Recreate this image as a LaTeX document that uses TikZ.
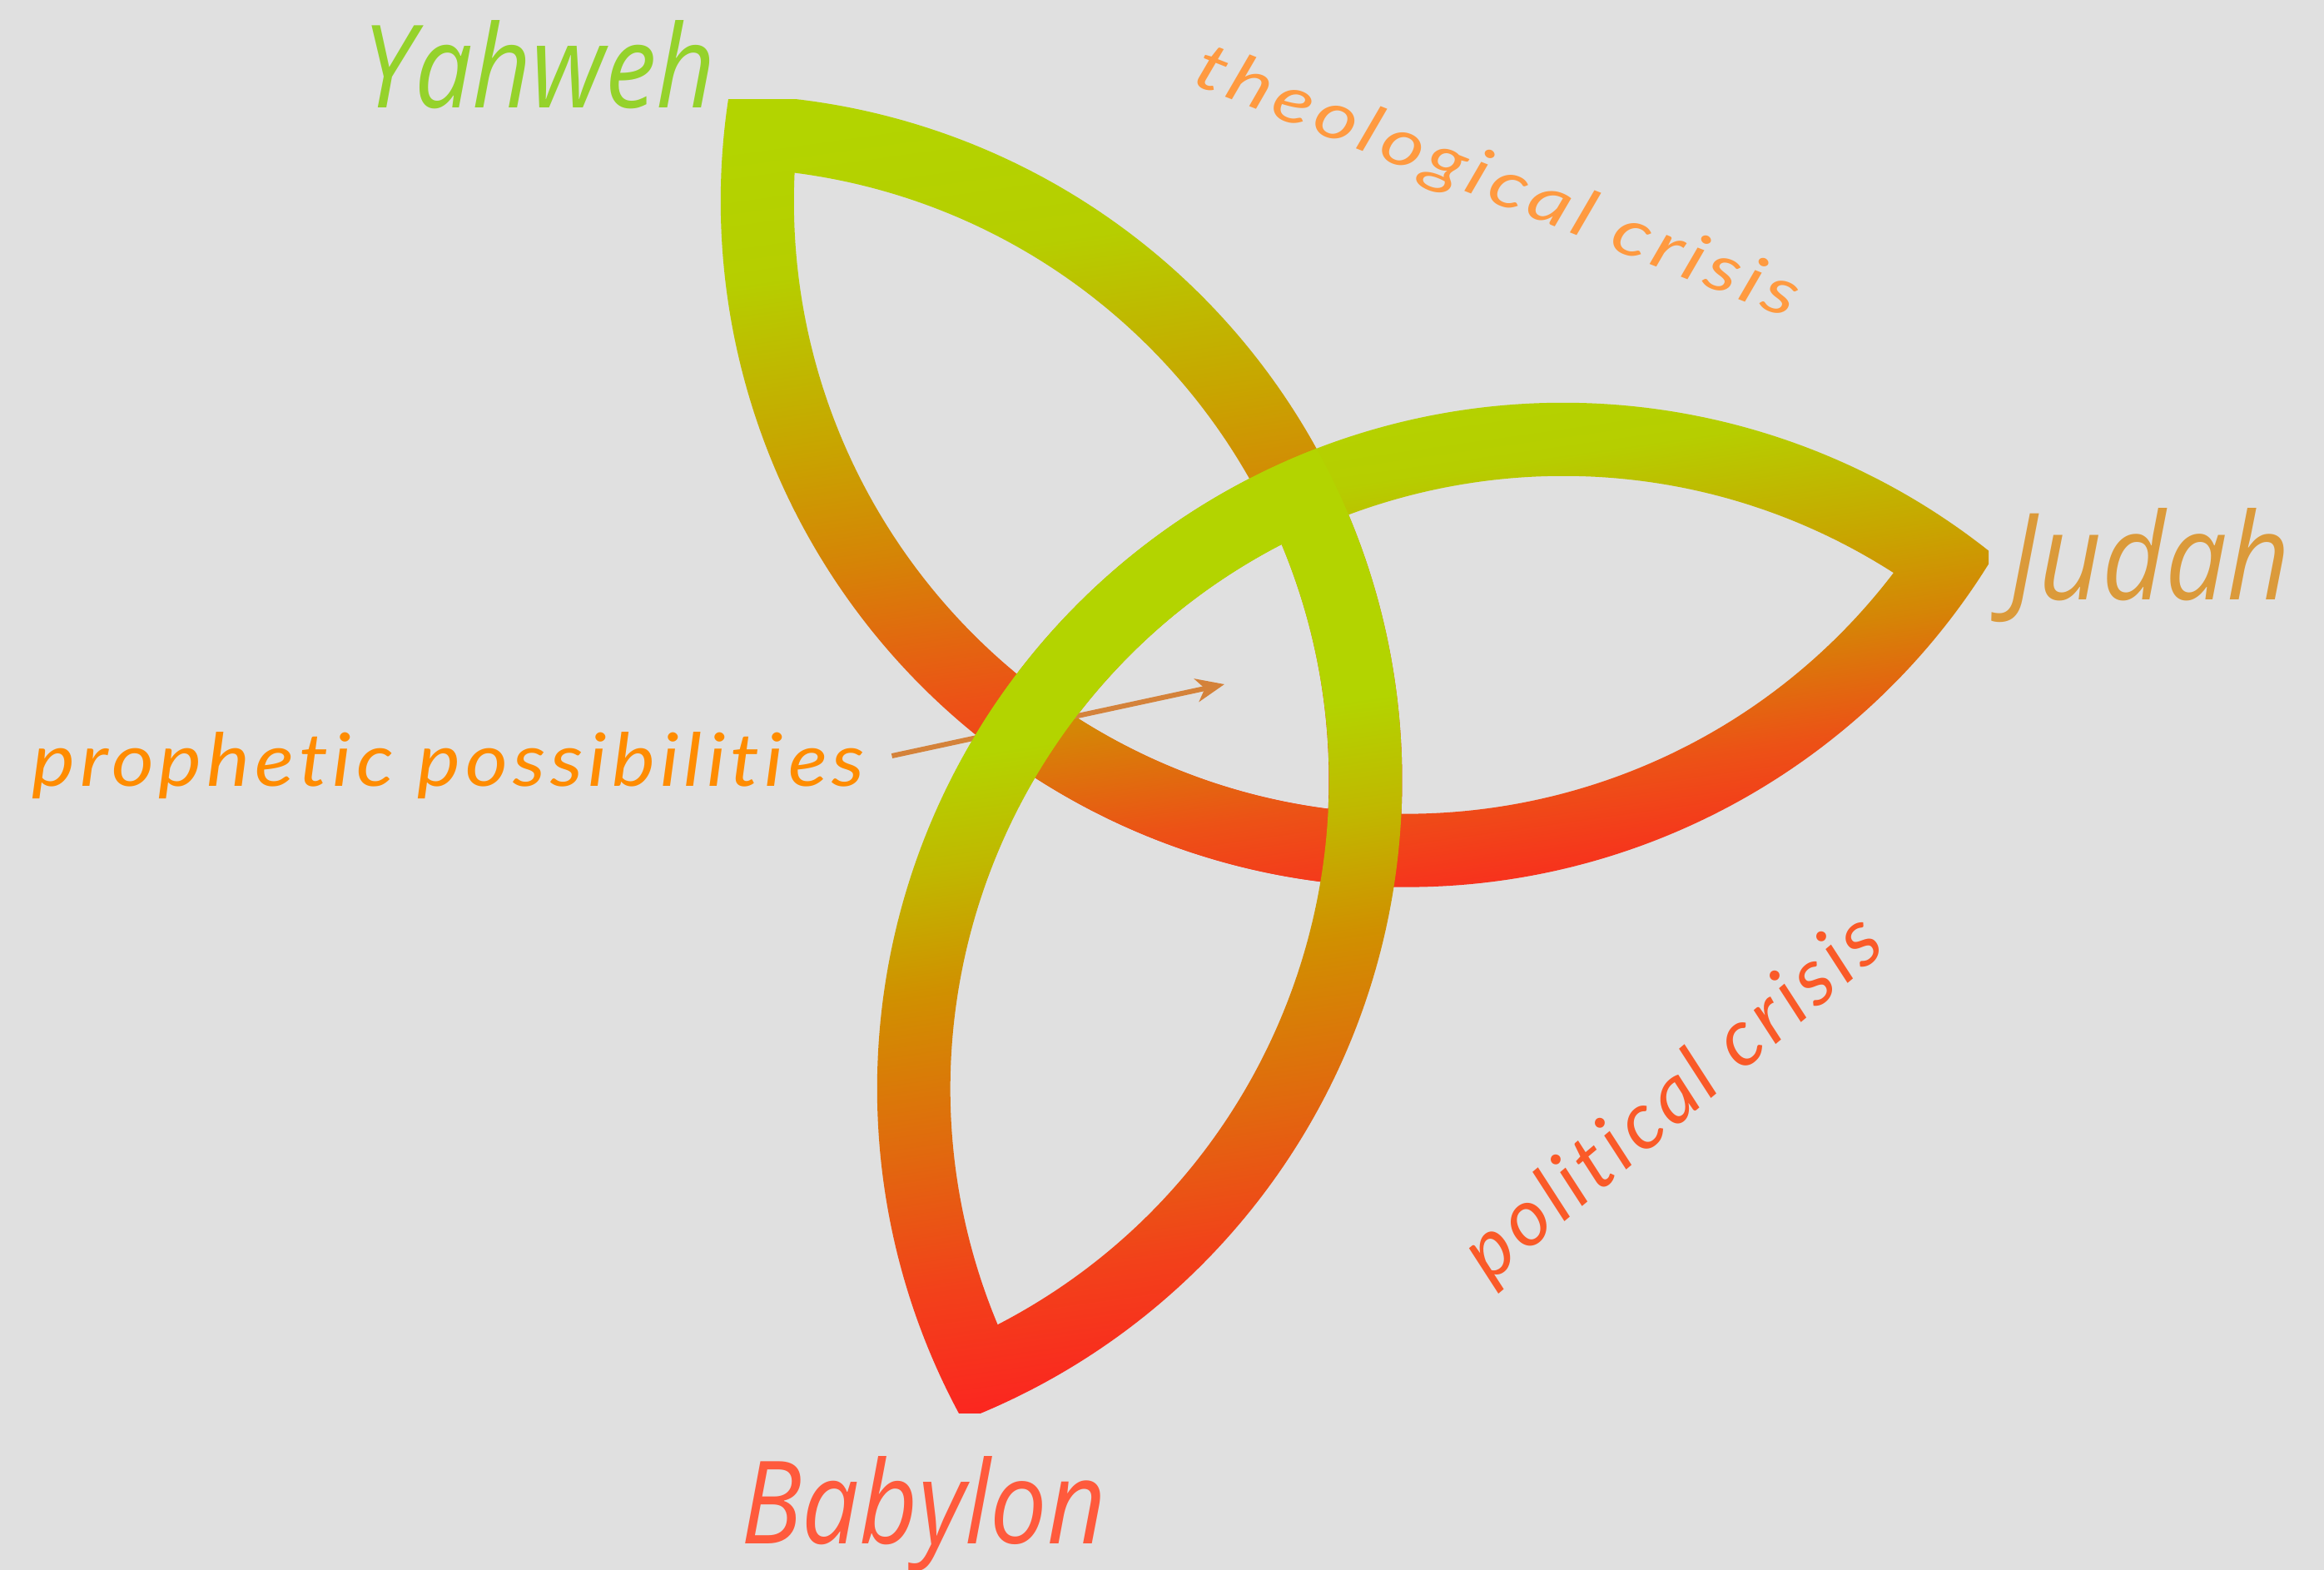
\documentclass[tikz,border=0pt]{standalone}
\usepackage{fontspec}
\usepackage{graphicx}
\usetikzlibrary{calc,arrows.meta}
\newfontfamily\labfont{Open Sans}
\newfontfamily\handfont{Lato}[Ligatures={NoCommon,NoRare,NoContextual},LetterSpace=6]
\definecolor{gG}{RGB}{179,212,0}
\definecolor{gA}{RGB}{182,206,0}
\definecolor{gB}{RGB}{200,165,0}
\definecolor{gC}{RGB}{213,133,6}
\definecolor{gD}{RGB}{236,82,22}
\definecolor{gR}{RGB}{252,36,32}
\definecolor{bA}{RGB}{192,184,0}
\definecolor{bB}{RGB}{208,144,0}
\definecolor{bC}{RGB}{225,105,14}
\definecolor{bD}{RGB}{242,65,26}
\definecolor{yahc}{HTML}{95D22B}
\definecolor{judc}{HTML}{DB9A3A}
\definecolor{babc}{HTML}{FF5A3C}
\definecolor{theoc}{HTML}{FF9A40}
\definecolor{propc}{HTML}{FF8C00}
\definecolor{polc}{HTML}{FA5A28}
\definecolor{arrc}{HTML}{D4823A}
\definecolor{bgc}{HTML}{E0E0E0}
\pgfdeclareverticalshading{lensgrad}{100bp}{color(0bp)=(gR); color(25bp)=(gR); color(37.5bp)=(gD); color(47.5bp)=(gC); color(55bp)=(gB); color(66bp)=(gA); color(75bp)=(gG); color(100bp)=(gG)}
\pgfdeclareverticalshading{babgrad}{100bp}{color(0bp)=(gR); color(25bp)=(gR); color(32.5bp)=(bD); color(40bp)=(bC); color(48.5bp)=(bB); color(55bp)=(bA); color(61bp)=(gG); color(75bp)=(gG); color(100bp)=(gG)}
\newcommand\lensCd{6.25}
\newcommand\lensRo{8.24}
\newcommand\lensRi{7.36}
% one lens-shaped band, axis angle #1, shading #2
\newcommand\drawlens[2]{%
  \shade[lensfill, shading=#2]
    ($(O)+({#1+60}:\lensCd)+({#1-41.06}:\lensRo)$)
      arc[start angle={#1-41.06}, end angle={#1-138.94}, radius=\lensRo]
      -- ($(O)+({#1-60}:\lensCd)+({#1+138.94}:\lensRo)$)
      arc[start angle={#1+138.94}, end angle={#1+41.06}, radius=\lensRo] -- cycle
    ($(O)+({#1+60}:\lensCd)+({#1-47.35}:\lensRi)$)
      arc[start angle={#1-47.35}, end angle={#1-132.65}, radius=\lensRi]
      -- ($(O)+({#1-60}:\lensCd)+({#1+132.65}:\lensRi)$)
      arc[start angle={#1+132.65}, end angle={#1+47.35}, radius=\lensRi] -- cycle;}
\tikzset{
  lensfill/.style={shading angle=8, even odd rule},
  biglabel/.style={inner sep=0pt, anchor=base west},
  handlabel/.style={inner sep=0pt},
}
\begin{document}
\begin{tikzpicture}
\useasboundingbox (0,0) rectangle (27.92,18.86);
\fill[bgc] (0,0) rectangle (27.92,18.86);
\coordinate (O) at (14.76,10.57);
% lenses: Yahweh, Judah, then Babylon on top (outer tips slightly cut)
\begin{scope}
  \clip (0,0) rectangle (27.92,17.66);
  \drawlens{130}{lensgrad}
\end{scope}
\begin{scope}
  \clip (0,0) rectangle (23.89,18.86);
  \drawlens{10}{lensgrad}
\end{scope}
% labels
\node[handlabel, anchor=base west, text=propc] (pp) at (0.38,9.41)
  {\resizebox{10.0cm}{0.65cm}{\handfont\itshape prophetic possibilities}};
\coordinate (arrS) at ($(pp.east)+(0.32,0.12)$);
\coordinate (arrE) at (14.71,10.64);
\draw[arrc, line width=0.06cm, -{Stealth[length=0.34cm, width=0.28cm, inset=0.1cm]}] (arrS) -- (arrE);
\begin{scope}
  \clip (0,1.885) rectangle (27.92,18.86);
  \drawlens{250}{babgrad}
\end{scope}
\node[biglabel, text=yahc] (yah) at (4.35,17.56)
  {\resizebox{4.24cm}{1.05cm}{\labfont\itshape Yahweh}};
\node[biglabel, text=judc] (jud) at (24.13,11.65)
  {\resizebox{3.38cm}{1.10cm}{\labfont\itshape Judah}};
\node[biglabel, text=babc] (bab) at (8.90,0.31)
  {\resizebox{4.38cm}{1.05cm}{\labfont\itshape Babylon}};
\node[handlabel, anchor=base, rotate=-21.5, text=theoc] (theo) at (17.90,16.44)
  {\resizebox{7.72cm}{0.58cm}{\handfont\itshape theological crisis}};
\node[handlabel, anchor=center, rotate=40, text=polc] (pol) at (20.12,5.65)
  {\resizebox{6.25cm}{0.70cm}{\handfont\itshape political crisis}};
\end{tikzpicture}
\end{document}
